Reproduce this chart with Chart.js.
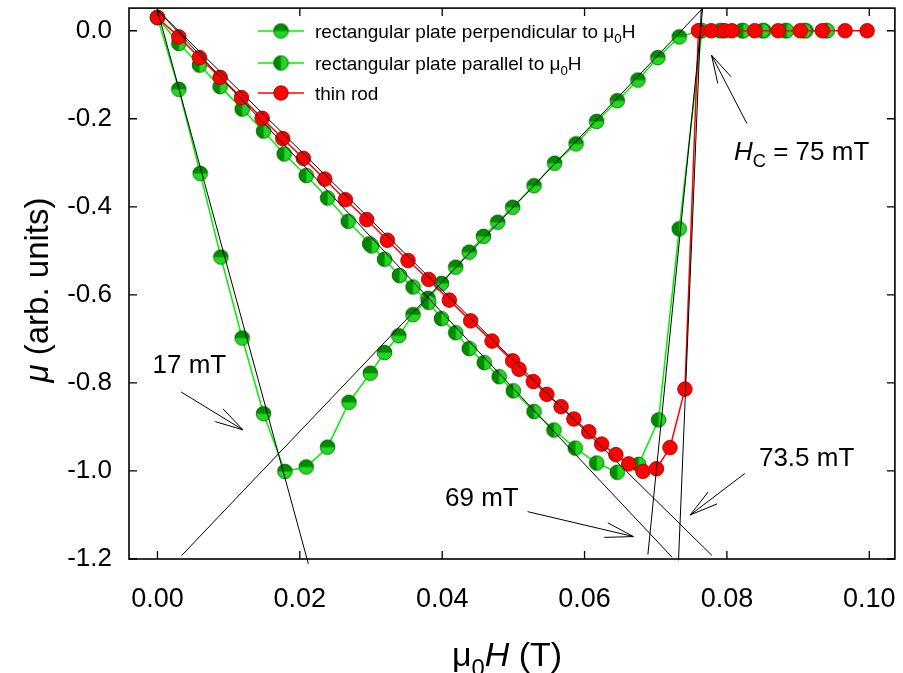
<!DOCTYPE html>
<html>
<head>
<meta charset="utf-8">
<script src="https://cdn.jsdelivr.net/npm/chart.js@4/dist/chart.umd.min.js"></script>
<style>
  html, body { margin: 0; padding: 0; background: #fff; }
  #wrap { width: 903px; height: 673px; }
</style>
</head>
<body>
<div id="wrap"><canvas id="chart"></canvas></div>
<script>
/* ---------- data ---------- */
// rectangular plate perpendicular to mu0H
const perpX = [0, 0.0030, 0.0060, 0.0089, 0.0119, 0.0149, 0.0179, 0.0209, 0.0239, 0.0269, 0.0299, 0.0319,
  0.0339, 0.0359, 0.0380, 0.0399, 0.0419, 0.0438, 0.0458, 0.0478, 0.0499, 0.0529, 0.0558, 0.0588, 0.0617,
  0.0646, 0.0675, 0.0703, 0.0733, 0.0763, 0.0793, 0.0821, 0.0852, 0.0882, 0.0911, 0.0939];
const perpY = [0.03, -0.133, -0.324, -0.514, -0.698, -0.870, -1.001, -0.991, -0.946, -0.844, -0.778, -0.731,
  -0.693, -0.645, -0.608, -0.574, -0.537, -0.503, -0.467, -0.435, -0.401, -0.352, -0.301, -0.257, -0.206,
  -0.159, -0.112, -0.061, -0.014, 0, 0, 0, 0, 0, 0, 0];

// rectangular plate parallel to mu0H
const paraX = [0, 0.0030, 0.0059, 0.0088, 0.0119, 0.0149, 0.0178, 0.0209, 0.0239, 0.0268, 0.0298, 0.0301,
  0.0319, 0.0340, 0.0359, 0.0381, 0.0399, 0.0419, 0.0438, 0.0459, 0.0480, 0.0500, 0.0529, 0.0557, 0.0587,
  0.0617, 0.0646, 0.0676, 0.0704, 0.0733, 0.0765, 0.0790, 0.0823, 0.0850, 0.0884, 0.0909, 0.0941];
const paraY = [0.03, -0.029, -0.078, -0.127, -0.178, -0.228, -0.280, -0.329, -0.380, -0.433, -0.484, -0.489,
  -0.519, -0.556, -0.582, -0.617, -0.654, -0.686, -0.722, -0.754, -0.786, -0.818, -0.865, -0.907, -0.948,
  -0.982, -1.003, -0.985, -0.884, -0.450, 0, 0, 0, 0, 0, 0, 0];

// thin rod
const rodX = [0, 0.0030, 0.0059, 0.0088, 0.0118, 0.0147, 0.0176, 0.0205, 0.0235, 0.0264, 0.0294, 0.0323,
  0.0352, 0.0381, 0.0410, 0.0440, 0.0470, 0.0499, 0.0508, 0.0528, 0.0547, 0.0567, 0.0585, 0.0606, 0.0624,
  0.0644, 0.0662, 0.0682, 0.0701, 0.0720, 0.0741, 0.0760, 0.0778, 0.0797, 0.0807, 0.0839, 0.0872, 0.0903,
  0.0934, 0.0966, 0.0997];
const rodY = [0.03, -0.014, -0.061, -0.106, -0.152, -0.199, -0.245, -0.290, -0.337, -0.384, -0.429, -0.476,
  -0.522, -0.565, -0.612, -0.659, -0.705, -0.750, -0.769, -0.797, -0.826, -0.854, -0.882, -0.911, -0.939,
  -0.963, -0.984, -1.001, -0.995, -0.947, -0.814, 0, 0, 0, 0, 0, 0, 0, 0, 0, 0];

// straight construction lines, [x1, y1, x2, y2] in data units
const fitLines = [
  [0, 0.047, 0.0212, -1.211],
  [0.0034, -1.192, 0.0766, 0.051],
  [0, 0.047, 0.0723, -1.196],
  [0, 0.047, 0.0779, -1.192],
  [0.0689, -1.190, 0.0766, 0.051],
  [0.0732, -1.203, 0.0764, 0.051]
];

// annotation texts (left, baseline) and arrows (from -> tip), data units
const noteText = ['17 mT', '69 mT', '73.5 mT'];
const noteX = [-0.0007, 0.0404, 0.0845];
const noteY = [-0.778, -1.079, -0.988];
const hcNote = { x: 0.0810, y: -0.2935 };
const arrowFrom = [[0.00332, -0.8206], [0.0520, -1.0924], [0.08252, -1.0057], [0.0828, -0.2106]];
const arrowTo = [[0.01202, -0.9067], [0.06686, -1.149], [0.07485, -1.0999], [0.07784, -0.0557]];

const xTicks = [0, 0.02, 0.04, 0.06, 0.08, 0.10];
const xTickLabels = ['0.00', '0.02', '0.04', '0.06', '0.08', '0.10'];
const yTicks = [0, -0.2, -0.4, -0.6, -0.8, -1.0, -1.2];
const yTickLabels = ['0.0', '-0.2', '-0.4', '-0.6', '-0.8', '-1.0', '-1.2'];

const seriesNames = ['rectangular plate perpendicular to \u03bc', 'rectangular plate parallel to \u03bc', 'thin rod'];

/* ---------- style ---------- */
const FONT = 'Arial, "Liberation Sans", sans-serif';
const DARK = '#008a00', LIGHT = '#1fd81f', EDGE = '#005a00';
const GREEN_LINE = '#00f000', RED_LINE = '#ff0000';

function halfDot(split) {
  const c = document.createElement('canvas');
  c.width = c.height = 17;
  const g = c.getContext('2d');
  const cx = 8.5, cy = 8.5, r = 7.3;
  g.beginPath(); g.arc(cx, cy, r, 0, Math.PI * 2); g.fillStyle = LIGHT; g.fill();
  g.beginPath();
  if (split === 'top') g.arc(cx, cy, r, Math.PI, Math.PI * 2);
  else g.arc(cx, cy, r, Math.PI / 2, Math.PI * 1.5);
  g.closePath(); g.fillStyle = DARK; g.fill();
  g.beginPath(); g.arc(cx, cy, r, 0, Math.PI * 2);
  g.strokeStyle = EDGE; g.lineWidth = 0.8; g.stroke();
  return c;
}
const dotTop = halfDot('top');
const dotLeft = halfDot('left');

const pts = (xs, ys) => xs.map((x, i) => ({ x: x, y: ys[i] }));

/* ---------- helpers for rich text ---------- */
function richWidth(ctx, parts, size) {
  let w = 0;
  parts.forEach(p => {
    const s = p.sub ? size * 0.7 : size;
    ctx.font = (p.italic ? 'italic ' : '') + s + 'px ' + FONT;
    w += ctx.measureText(p.t).width;
  });
  return w;
}
function drawRich(ctx, parts, x, y, size) {
  parts.forEach(p => {
    const s = p.sub ? size * 0.7 : size;
    ctx.font = (p.italic ? 'italic ' : '') + s + 'px ' + FONT;
    ctx.fillText(p.t, x, p.sub ? y + size * 0.28 : y);
    x += ctx.measureText(p.t).width;
  });
}

function arrow(ctx, x1, y1, x2, y2) {
  const a = Math.atan2(y1 - y2, x1 - x2);
  const len = 29, spread = 0.26;
  ctx.beginPath();
  ctx.moveTo(x1, y1); ctx.lineTo(x2, y2);
  ctx.moveTo(x2 + len * Math.cos(a + spread), y2 + len * Math.sin(a + spread));
  ctx.lineTo(x2, y2);
  ctx.lineTo(x2 + len * Math.cos(a - spread), y2 + len * Math.sin(a - spread));
  ctx.stroke();
}

/* ---------- frame, ticks, notes, legend, titles ---------- */
const decor = {
  id: 'decor',
  afterDraw(chart) {
    const ctx = chart.ctx;
    const xs = chart.scales.x, ys = chart.scales.y;
    const a = chart.chartArea;
    ctx.save();
    ctx.strokeStyle = '#000';
    ctx.fillStyle = '#000';

    // frame
    ctx.lineWidth = 1.6;
    ctx.strokeRect(a.left, a.top, a.right - a.left, a.bottom - a.top);

    // inward ticks on all four sides
    const tl = 8;
    ctx.lineWidth = 1.3;
    ctx.beginPath();
    xs.ticks.forEach(t => {
      const px = xs.getPixelForValue(t.value);
      ctx.moveTo(px, a.bottom); ctx.lineTo(px, a.bottom - tl);
      ctx.moveTo(px, a.top); ctx.lineTo(px, a.top + tl);
    });
    ys.ticks.forEach(t => {
      const py = ys.getPixelForValue(t.value);
      ctx.moveTo(a.left, py); ctx.lineTo(a.left + tl, py);
      ctx.moveTo(a.right, py); ctx.lineTo(a.right - tl, py);
    });
    ctx.stroke();

    // arrows
    ctx.lineWidth = 1;
    arrowFrom.forEach((f, i) => {
      const t = arrowTo[i];
      arrow(ctx, xs.getPixelForValue(f[0]), ys.getPixelForValue(f[1]),
        xs.getPixelForValue(t[0]), ys.getPixelForValue(t[1]));
    });

    // notes
    ctx.textAlign = 'left';
    ctx.textBaseline = 'alphabetic';
    ctx.font = '26px ' + FONT;
    noteText.forEach((s, i) => {
      ctx.fillText(s, xs.getPixelForValue(noteX[i]), ys.getPixelForValue(noteY[i]));
    });
    drawRich(ctx, [{ t: 'H', italic: true }, { t: 'C', sub: true }, { t: ' = 75 mT' }],
      xs.getPixelForValue(hcNote.x), ys.getPixelForValue(hcNote.y), 26);

    // legend
    const rows = [31, 63, 93];
    const marks = [dotTop, dotLeft, null];
    const cols = [GREEN_LINE, GREEN_LINE, RED_LINE];
    rows.forEach((ry, i) => {
      ctx.strokeStyle = cols[i]; ctx.lineWidth = 1.5;
      ctx.beginPath(); ctx.moveTo(258, ry); ctx.lineTo(304, ry); ctx.stroke();
      if (marks[i]) {
        ctx.drawImage(marks[i], 281 - 8.5, ry - 8.5);
      } else {
        ctx.beginPath(); ctx.arc(281, ry, 7.3, 0, Math.PI * 2);
        ctx.fillStyle = '#ff0000'; ctx.fill();
        ctx.strokeStyle = '#a00000'; ctx.lineWidth = 0.8; ctx.stroke();
      }
      ctx.fillStyle = '#000';
      const parts = i < 2 ? [{ t: seriesNames[i] }, { t: '0', sub: true }, { t: 'H' }] : [{ t: seriesNames[i] }];
      drawRich(ctx, parts, 315, ry + 7, 19);
    });

    // axis titles
    const xt = [{ t: '\u03bc' }, { t: '0', sub: true }, { t: 'H', italic: true }, { t: ' (T)' }];
    const xw = richWidth(ctx, xt, 34);
    drawRich(ctx, xt, 507 - xw / 2, 666, 34);

    const yt = [{ t: '\u03bc', italic: true }, { t: ' (arb. units)' }];
    const yw = richWidth(ctx, yt, 33);
    ctx.translate(48, 290);
    ctx.rotate(-Math.PI / 2);
    drawRich(ctx, yt, -yw / 2, 0, 33);
    ctx.restore();
  }
};

/* ---------- chart ---------- */
const lineSets = fitLines.map(l => ({
  data: [{ x: l[0], y: l[1] }, { x: l[2], y: l[3] }],
  showLine: true, borderColor: '#000', borderWidth: 1,
  pointRadius: 0, clip: 6, order: 0
}));

const noPad = s => { s.paddingLeft = 0; s.paddingRight = 0; s.paddingTop = 0; s.paddingBottom = 0; };

new Chart(document.getElementById('chart'), {
  type: 'scatter',
  data: {
    datasets: [
      ...lineSets,
      { label: 'thin rod', data: pts(rodX, rodY), showLine: true, borderColor: RED_LINE, borderWidth: 1.5,
        pointRadius: 7.3, pointBackgroundColor: '#ff0000', pointBorderColor: '#a00000', pointBorderWidth: 0.8, order: 1 },
      { label: 'parallel', data: pts(paraX, paraY), showLine: true, borderColor: GREEN_LINE, borderWidth: 1.5,
        pointStyle: dotLeft, order: 2 },
      { label: 'perpendicular', data: pts(perpX, perpY), showLine: true, borderColor: GREEN_LINE, borderWidth: 1.5,
        pointStyle: dotTop, order: 3 }
    ]
  },
  options: {
    responsive: true,
    maintainAspectRatio: false,
    animation: false,
    layout: { padding: { top: 6, right: 7, left: 0, bottom: 0 } },
    plugins: { legend: { display: false }, tooltip: { enabled: false } },
    scales: {
      x: {
        type: 'linear', min: -0.004, max: 0.1036,
        afterBuildTicks: s => { s.ticks = xTicks.map(v => ({ value: v })); },
        afterFit: s => { s.height = 114; noPad(s); },
        grid: { display: false, drawTicks: false }, border: { display: false },
        ticks: { padding: 24, color: '#000', font: { family: FONT, size: 27 }, maxRotation: 0, autoSkip: false,
          callback: v => xTickLabels[xTicks.findIndex(t => Math.abs(t - v) < 1e-9)] }
      },
      y: {
        type: 'linear', min: -1.2, max: 0.0514,
        afterBuildTicks: s => { s.ticks = yTicks.map(v => ({ value: v })); },
        afterFit: s => { s.width = 129; noPad(s); },
        grid: { display: false, drawTicks: false }, border: { display: false },
        ticks: { padding: 17, color: '#000', font: { family: FONT, size: 26 }, autoSkip: false,
          callback: v => yTickLabels[yTicks.findIndex(t => Math.abs(t - v) < 1e-9)] }
      }
    }
  },
  plugins: [decor]
});
</script>
</body>
</html>
